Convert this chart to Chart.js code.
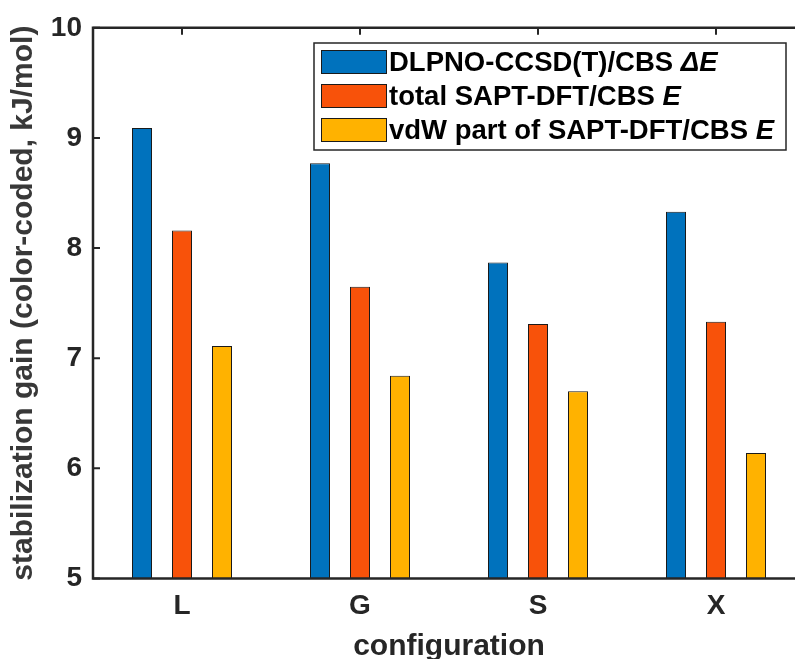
<!DOCTYPE html>
<html>
<head>
<meta charset="utf-8">
<script src="https://cdn.jsdelivr.net/npm/chart.js@4/dist/chart.umd.min.js"></script>
<style>
  html, body { margin: 0; padding: 0; background: #fff; overflow: hidden; }
  #wrap { position: relative; width: 795px; height: 659px; overflow: hidden; }
  #c { position: absolute; left: 0; top: 0; }
</style>
</head>
<body>
<div id="wrap"><canvas id="c" width="805" height="659"></canvas></div>
<script>
const categories = ['L', 'G', 'S', 'X'];
const dlpnoValues = [9.09, 8.77, 7.87, 8.33];
const totalSaptValues = [8.16, 7.65, 7.31, 7.33];
const vdwSaptValues = [7.11, 6.84, 6.70, 6.14];
const seriesNames = ['DLPNO-CCSD(T)/CBS ', 'total SAPT-DFT/CBS ', 'vdW part of SAPT-DFT/CBS '];
const seriesSymbols = ['\u0394E', 'E', 'E'];
const seriesColors = ['#0072BD', '#F8520A', '#FFB200'];
const yTicks = [5, 6, 7, 8, 9, 10];
const xTitle = 'configuration';
const yTitle = 'stabilization gain (color-coded, kJ/mol)';

const FONT = "'Liberation Sans', Arial, sans-serif";
const AXIS_COLOR = '#262626';

const axesPlugin = {
  id: 'matlabAxes',
  beforeDatasetsDraw(chart) {
    const {ctx, chartArea: a, scales: {x, y}} = chart;
    ctx.save();
    ctx.strokeStyle = AXIS_COLOR;
    ctx.lineWidth = 2;
    const tl = 7;
    categories.forEach((c, i) => {
      const px = x.getPixelForValue(i);
      ctx.beginPath();
      ctx.moveTo(px, a.bottom); ctx.lineTo(px, a.bottom - tl);
      ctx.moveTo(px, a.top); ctx.lineTo(px, a.top + tl);
      ctx.stroke();
    });
    yTicks.forEach(v => {
      const py = y.getPixelForValue(v);
      ctx.beginPath();
      ctx.moveTo(a.left, py); ctx.lineTo(a.left + tl, py);
      ctx.moveTo(a.right, py); ctx.lineTo(a.right - tl, py);
      ctx.stroke();
    });
    ctx.restore();
  },
  afterDatasetsDraw(chart) {
    const {ctx, chartArea: a} = chart;
    ctx.save();
    ctx.strokeStyle = AXIS_COLOR;
    ctx.lineWidth = 2.5;
    ctx.beginPath();
    ctx.rect(a.left, a.top, a.right - a.left, a.bottom - a.top);
    ctx.stroke();
    ctx.restore();
  }
};

const legendPlugin = {
  id: 'matlabLegend',
  afterDraw(chart) {
    const {ctx} = chart;
    const box = {x: 314, y: 43, w: 472, h: 107};
    ctx.save();
    ctx.fillStyle = '#fff';
    ctx.fillRect(box.x, box.y, box.w, box.h);
    ctx.strokeStyle = '#262626';
    ctx.lineWidth = 1.5;
    ctx.strokeRect(box.x, box.y, box.w, box.h);
    const rowY0 = 62, rowStep = 34;
    seriesNames.forEach((name, i) => {
      const cy = rowY0 + i * rowStep;
      ctx.fillStyle = chart.data.datasets[i].backgroundColor;
      ctx.fillRect(321, cy - 12, 66, 24);
      ctx.strokeStyle = '#1a1a1a';
      ctx.lineWidth = 1;
      ctx.strokeRect(321.5, cy - 11.5, 65, 23);
      ctx.fillStyle = '#000';
      ctx.textBaseline = 'middle';
      ctx.textAlign = 'left';
      ctx.font = 'bold 27.5px ' + FONT;
      ctx.fillText(name, 389, cy + 1);
      const w = ctx.measureText(name).width;
      ctx.font = 'italic bold 27.5px ' + FONT;
      ctx.fillText(seriesSymbols[i], 389 + w, cy + 1);
    });
    ctx.restore();
  }
};

const datasets = [dlpnoValues, totalSaptValues, vdwSaptValues].map((vals, i) => ({
  label: seriesNames[i] + seriesSymbols[i],
  data: vals,
  backgroundColor: seriesColors[i],
  borderColor: '#1a1a1a',
  borderWidth: 1,
  borderSkipped: false,
  categoryPercentage: 120 / 178,
  barPercentage: 0.5
}));

new Chart(document.getElementById('c'), {
  type: 'bar',
  data: { labels: categories, datasets },
  options: {
    responsive: false,
    devicePixelRatio: 1,
    animation: false,
    layout: { padding: { top: 25.5, right: 0, bottom: 0, left: 0 } },
    plugins: { legend: { display: false }, tooltip: { enabled: false } },
    scales: {
      x: {
        offset: true,
        grid: { display: false, drawTicks: false },
        border: { display: false },
        ticks: { color: AXIS_COLOR, padding: 11, font: { family: FONT, size: 28, weight: 'bold' } },
        title: { display: true, text: xTitle, color: AXIS_COLOR, padding: { top: 0, bottom: 0 },
                 font: { family: FONT, size: 30, weight: 'bold', lineHeight: 0.8 } },
        afterFit(s) { s.height = 80.5; }
      },
      y: {
        min: 5, max: 10,
        afterBuildTicks(s) { s.ticks = yTicks.map(v => ({ value: v })); },
        grid: { display: false, drawTicks: false },
        border: { display: false },
        ticks: { color: AXIS_COLOR, padding: 11, font: { family: FONT, size: 28, weight: 'bold' } },
        title: { display: true, text: yTitle, color: '#383838', padding: { top: 9, bottom: 0 },
                 font: { family: FONT, size: 30, weight: 'bold', lineHeight: 1.0 } },
        afterFit(s) { s.width = 93; }
      }
    }
  },
  plugins: [axesPlugin, legendPlugin]
});
</script>
</body>
</html>
